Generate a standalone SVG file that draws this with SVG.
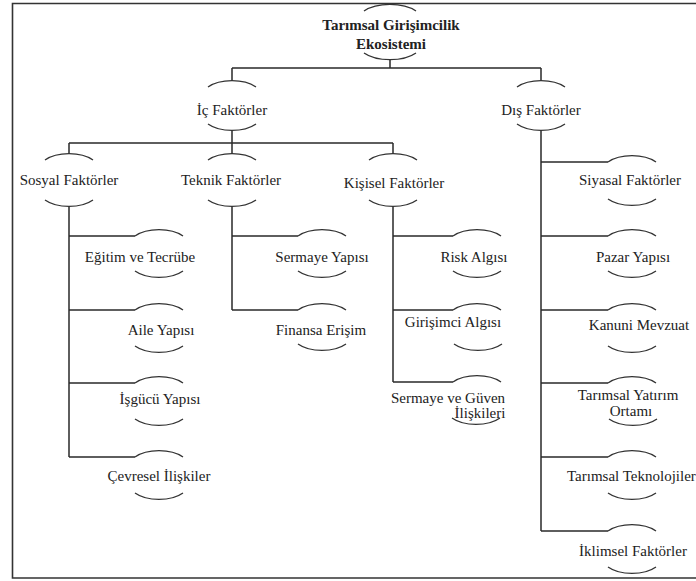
<svg xmlns="http://www.w3.org/2000/svg" xmlns:xlink="http://www.w3.org/1999/xlink" width="696" height="581" viewBox="0 0 696 581" font-family="Liberation Serif, Tinos, Times New Roman, DejaVu Serif, serif" font-size="15">
<style>
  .frame{fill:none;stroke:#333;stroke-width:1.6}
  .conn{fill:none;stroke:#2a2a2a;stroke-width:1.5}
  .arc{fill:none;stroke:#333;stroke-width:1.3}
  text{fill:#222;text-anchor:middle}
  .title{font-weight:bold}
</style>
<defs>
  <path id="at" d="M-24,0 A30,16 0 0 1 24,0"/>
  <path id="ab" d="M-24,0 A30,16 0 0 0 24,0"/>
</defs>
<rect x="0" y="0" width="696" height="581" fill="#fff"/>
<path class="frame" d="M700,3.5 H12.5 V578 H700"/>

<g id="connectors" class="conn">
  <path d="M390,59 V68 M232,68 H541 M232,68 V81 M541,68 V81"/>
  <path d="M232,130 V154 M69,143 H393 M69,143 V154 M393,143 V154"/>
  <path d="M69,206 V457 M69,236 H135 M69,310 H135 M69,383 H135 M69,457 H135"/>
  <path d="M232,206 V310 M232,236 H298 M232,310 H298"/>
  <path d="M393,206 V382 M393,236 H453 M393,310 H453 M393,382 H453"/>
  <path d="M541,130 V531 M541,162 H608 M541,236 H608 M541,310 H608 M541,383 H608 M541,457 H608 M541,531 H608"/>
</g>

<g id="n-root">
  <path class="arc" d="M364,11 A32,16 0 0 1 416,11"/>
  <text class="title" x="391" y="30">Tarımsal Girişimcilik</text>
  <text class="title" x="391" y="49">Ekosistemi</text>
  <path class="arc" d="M364,53 A32,16 0 0 0 416,53"/>
</g>

<g id="n-ic">
  <use href="#at" class="arc" x="232" y="87"/>
  <text x="232" y="115">İç Faktörler</text>
  <use href="#ab" class="arc" x="232" y="124"/>
</g>
<g id="n-dis">
  <use href="#at" class="arc" x="541" y="87"/>
  <text x="541" y="115">Dış Faktörler</text>
  <use href="#ab" class="arc" x="541" y="124"/>
</g>

<g id="n-sosyal">
  <use href="#at" class="arc" x="69" y="160"/>
  <text x="69" y="185">Sosyal Faktörler</text>
  <use href="#ab" class="arc" x="69" y="200"/>
</g>
<g id="n-teknik">
  <use href="#at" class="arc" x="232" y="160"/>
  <text x="231" y="185">Teknik Faktörler</text>
  <use href="#ab" class="arc" x="232" y="200"/>
</g>
<g id="n-kisisel">
  <use href="#at" class="arc" x="393" y="160"/>
  <text x="394" y="188">Kişisel Faktörler</text>
  <use href="#ab" class="arc" x="393" y="200"/>
</g>

<g id="n-egitim">
  <use href="#at" class="arc" x="159" y="236"/>
  <text x="140" y="262">Eğitim ve Tecrübe</text>
  <use href="#ab" class="arc" x="159" y="271"/>
</g>
<g id="n-aile">
  <use href="#at" class="arc" x="159" y="310"/>
  <text x="161" y="335">Aile Yapısı</text>
  <use href="#ab" class="arc" x="159" y="346"/>
</g>
<g id="n-isgucu">
  <use href="#at" class="arc" x="159" y="383"/>
  <text x="160" y="404">İşgücü Yapısı</text>
  <use href="#ab" class="arc" x="159" y="419"/>
</g>
<g id="n-cevresel">
  <use href="#at" class="arc" x="159" y="457"/>
  <text x="159" y="481">Çevresel İlişkiler</text>
  <use href="#ab" class="arc" x="159" y="493"/>
</g>

<g id="n-sermaye">
  <use href="#at" class="arc" x="322" y="236"/>
  <text x="322" y="262">Sermaye Yapısı</text>
  <use href="#ab" class="arc" x="322" y="271"/>
</g>
<g id="n-finansa">
  <use href="#at" class="arc" x="322" y="310"/>
  <text x="321" y="335">Finansa Erişim</text>
  <use href="#ab" class="arc" x="322" y="344"/>
</g>

<g id="n-risk">
  <use href="#at" class="arc" x="477" y="236"/>
  <text x="474" y="262">Risk Algısı</text>
  <use href="#ab" class="arc" x="477" y="271"/>
</g>
<g id="n-girisimci">
  <use href="#at" class="arc" x="477" y="310"/>
  <text x="453" y="327">Girişimci Algısı</text>
  <use href="#ab" class="arc" x="478" y="344"/>
</g>
<g id="n-guven">
  <use href="#at" class="arc" x="477" y="382"/>
  <text x="448" y="403">Sermaye ve Güven</text>
  <text x="480" y="418">İlişkileri</text>
  <use href="#ab" class="arc" x="476" y="418"/>
</g>

<g id="n-siyasal">
  <use href="#at" class="arc" x="632" y="162"/>
  <text x="630" y="185">Siyasal Faktörler</text>
  <use href="#ab" class="arc" x="632" y="199"/>
</g>
<g id="n-pazar">
  <use href="#at" class="arc" x="632" y="236"/>
  <text x="633" y="262">Pazar Yapısı</text>
  <use href="#ab" class="arc" x="632" y="271"/>
</g>
<g id="n-kanuni">
  <use href="#at" class="arc" x="632" y="310"/>
  <text x="639" y="330">Kanuni Mevzuat</text>
  <use href="#ab" class="arc" x="632" y="346"/>
</g>
<g id="n-yatirim">
  <use href="#at" class="arc" x="632" y="383"/>
  <text x="628" y="400">Tarımsal Yatırım</text>
  <text x="631" y="416">Ortamı</text>
  <use href="#ab" class="arc" x="633" y="419"/>
</g>
<g id="n-teknoloji">
  <use href="#at" class="arc" x="632" y="457"/>
  <text x="567" y="481" style="text-anchor:start">Tarımsal Teknolojiler</text>
  <use href="#ab" class="arc" x="632" y="493"/>
</g>
<g id="n-iklim">
  <use href="#at" class="arc" x="632" y="531"/>
  <text x="633" y="556">İklimsel Faktörler</text>
  <use href="#ab" class="arc" x="632" y="567"/>
</g>
</svg>
